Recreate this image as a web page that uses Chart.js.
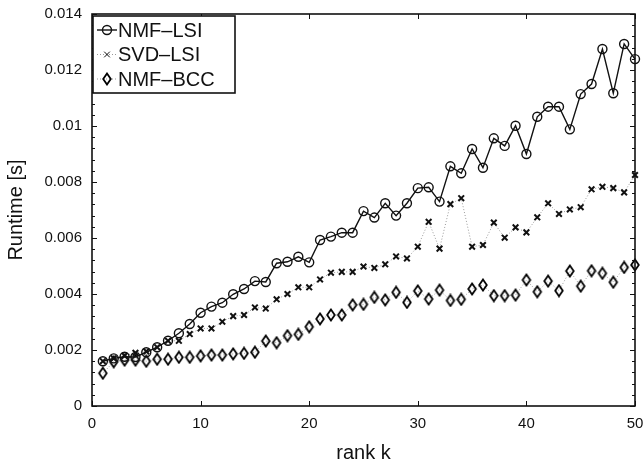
<!DOCTYPE html>
<html>
<head>
<meta charset="utf-8">
<script src="https://cdn.jsdelivr.net/npm/chart.js@4/dist/chart.umd.min.js"></script>
<style>
html, body { margin: 0; padding: 0; background: #fff; }
</style>
</head>
<body>
<canvas id="myChart" width="643" height="462"></canvas>
<script>
// data
const rankK = [1,2,3,4,5,6,7,8,9,10,11,12,13,14,15,16,17,18,19,20,21,22,23,24,25,
               26,27,28,29,30,31,32,33,34,35,36,37,38,39,40,41,42,43,44,45,46,47,48,49,50];
const nmfLsi = [0.00160,0.00170,0.00176,0.00175,0.00192,0.00210,0.00233,0.00260,0.00293,0.00333,
                0.00355,0.00369,0.00399,0.00418,0.00446,0.00443,0.00510,0.00515,0.00533,0.00513,
                0.00593,0.00605,0.00619,0.00619,0.00696,0.00673,0.00724,0.00680,0.00724,0.00778,
                0.00781,0.00730,0.00856,0.00831,0.00918,0.00851,0.00956,0.00929,0.01001,0.00900,
                0.01033,0.01069,0.01069,0.00988,0.01114,0.01150,0.01275,0.01117,0.01293,0.01239];
const svdLsi = [0.00160,0.00170,0.00180,0.00190,0.00195,0.00210,0.00233,0.00233,0.00257,0.00277,
                0.00277,0.00301,0.00321,0.00325,0.00352,0.00348,0.00381,0.00400,0.00424,0.00424,
                0.00452,0.00476,0.00479,0.00479,0.00498,0.00493,0.00506,0.00534,0.00527,0.00569,
                0.00658,0.00562,0.00721,0.00742,0.00569,0.00575,0.00655,0.00601,0.00638,0.00620,
                0.00674,0.00724,0.00686,0.00702,0.00710,0.00774,0.00783,0.00778,0.00763,0.00825];
const nmfBcc = [0.00117,0.00158,0.00164,0.00164,0.00160,0.00167,0.00167,0.00174,0.00174,0.00179,
                0.00182,0.00182,0.00186,0.00188,0.00192,0.00232,0.00226,0.00251,0.00256,0.00283,
                0.00311,0.00325,0.00325,0.00361,0.00363,0.00388,0.00379,0.00406,0.00370,0.00411,
                0.00382,0.00414,0.00377,0.00381,0.00418,0.00432,0.00394,0.00394,0.00396,0.00450,
                0.00408,0.00446,0.00412,0.00482,0.00428,0.00483,0.00474,0.00442,0.00495,0.00504];
const xTicks = [0, 10, 20, 30, 40, 50];
const yTicks = [0, 0.002, 0.004, 0.006, 0.008, 0.01, 0.012, 0.014];

const font = "'Liberation Sans', Arial, Helvetica, sans-serif";

// taller diamond marker like matlab's
function diamond() {
  let c = document.createElement('canvas');
  c.width = 12; c.height = 14;
  let g = c.getContext('2d');
  g.strokeStyle = '#000';
  g.lineWidth = 1.8;
  g.beginPath();
  g.moveTo(6, 1.5); g.lineTo(9.8, 7); g.lineTo(6, 12.5); g.lineTo(2.2, 7); g.closePath();
  g.stroke();
  return c;
}
const diamondImg = diamond();

const pairs = (ys) => rankK.map((k, i) => ({x: k, y: ys[i]}));

// box, inward ticks (major + minor on y)
const frame = {
  id: 'frame',
  afterDatasetsDraw(chart) {
    const {ctx, chartArea: a, scales: {x, y}} = chart;
    ctx.save();
    ctx.strokeStyle = '#111';
    ctx.lineWidth = 1;
    ctx.beginPath();
    xTicks.forEach(v => {
      let px = Math.round(x.getPixelForValue(v)) + 0.5;
      ctx.moveTo(px, a.bottom); ctx.lineTo(px, a.bottom - 5);
      ctx.moveTo(px, a.top); ctx.lineTo(px, a.top + 5);
    });
    for (let i = 0; i <= 35; i++) {
      let py = Math.round(y.getPixelForValue(i * 0.0004)) + 0.5;
      let len = i % 5 === 0 ? 5 : 3;
      ctx.moveTo(a.left, py); ctx.lineTo(a.left + len, py);
      ctx.moveTo(a.right, py); ctx.lineTo(a.right - len, py);
    }
    ctx.stroke();
    ctx.lineWidth = 1.6;
    ctx.strokeRect(a.left, a.top, a.right - a.left, a.bottom - a.top);
    ctx.restore();
  }
};

// legend in the top left corner of the plot
const boxLegend = {
  id: 'boxLegend',
  afterDraw(chart) {
    const ctx = chart.ctx, a = chart.chartArea;
    const x0 = a.left + 1, y0 = a.top + 2, w = 142, h = 77;
    ctx.save();
    ctx.fillStyle = '#fff';
    ctx.fillRect(x0, y0, w, h);
    ctx.strokeStyle = '#111';
    ctx.lineWidth = 1.6;
    ctx.strokeRect(x0, y0, w, h);
    chart.data.datasets.forEach((ds, i) => {
      let cy = y0 + 14 + i * 24.5;
      ctx.strokeStyle = ds.borderColor;
      ctx.lineWidth = ds.borderWidth;
      ctx.setLineDash(ds.borderDash || []);
      ctx.beginPath();
      ctx.moveTo(x0 + 4, cy); ctx.lineTo(x0 + 24, cy);
      ctx.stroke();
      ctx.setLineDash([]);
      ctx.strokeStyle = ds.pointBorderColor;
      ctx.fillStyle = 'rgba(0,0,0,0)';
      Chart.helpers.drawPoint(ctx, {
        pointStyle: ds.pointStyle, rotation: 0,
        radius: ds.pointRadius, borderWidth: ds.pointBorderWidth
      }, x0 + 14, cy);
      ctx.fillStyle = '#111';
      ctx.font = '20px ' + font;
      ctx.textBaseline = 'middle';
      ctx.fillText(ds.label, x0 + 25, cy + 1);
    });
    ctx.restore();
  }
};

new Chart('myChart', {
  type: 'scatter',
  data: {
    datasets: [{
      label: 'NMF–LSI',
      data: pairs(nmfLsi),
      showLine: true,
      borderColor: '#111',
      borderWidth: 1.4,
      pointStyle: 'circle',
      pointRadius: 4.5,
      pointBorderWidth: 1.4,
      pointBorderColor: '#111',
      pointBackgroundColor: 'rgba(0,0,0,0)',
      clip: false
    }, {
      label: 'SVD–LSI',
      data: pairs(svdLsi),
      showLine: true,
      borderColor: '#999',
      borderWidth: 1,
      borderDash: [1, 2],
      pointStyle: 'crossRot',
      pointRadius: 4,
      pointBorderWidth: 2,
      pointBorderColor: '#111',
      clip: false
    }, {
      label: 'NMF–BCC',
      data: pairs(nmfBcc),
      showLine: true,
      borderColor: '#999',
      borderWidth: 1,
      borderDash: [1, 2],
      pointStyle: diamondImg,
      pointRadius: 5,
      pointBorderWidth: 1.6,
      pointBorderColor: '#111',
      clip: false
    }]
  },
  options: {
    responsive: false,
    animation: false,
    devicePixelRatio: 1,
    layout: {padding: {top: 14, right: 8, left: 0, bottom: 0}},
    plugins: {legend: {display: false}, tooltip: {enabled: false}},
    scales: {
      x: {
        type: 'linear', min: 0, max: 50,
        afterBuildTicks: (s) => { s.ticks = xTicks.map(v => ({value: v})); },
        afterFit: (s) => { s.height = 56; s.paddingLeft = 0; s.paddingRight = 0; },
        grid: {display: false, drawTicks: false},
        border: {display: false},
        ticks: {color: '#111', font: {family: font, size: 15}, padding: 9, maxRotation: 0},
        title: {display: true, text: 'rank k', color: '#111', font: {family: font, size: 20}, padding: {top: 4, bottom: -3}}
      },
      y: {
        type: 'linear', min: 0, max: 0.014,
        afterBuildTicks: (s) => { s.ticks = yTicks.map(v => ({value: v})); },
        afterFit: (s) => { s.width = 92; s.paddingTop = 0; s.paddingBottom = 0; },
        grid: {display: false, drawTicks: false},
        border: {display: false},
        ticks: {
          color: '#111', font: {family: font, size: 15}, padding: 10,
          callback: (v) => String(Number(v.toFixed(3)))
        },
        title: {display: true, text: 'Runtime [s]', color: '#111', font: {family: font, size: 20}, padding: {top: 4, bottom: 0}}
      }
    }
  },
  plugins: [frame, boxLegend]
});
</script>
</body>
</html>
